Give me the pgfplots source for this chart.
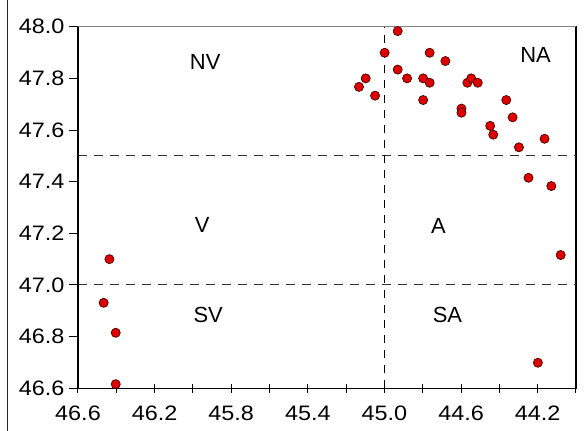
\documentclass[border=0pt]{standalone}
\usepackage{fontspec}
\setmainfont{Liberation Sans}
\newfontfamily\tickfont{Liberation Sans}[FakeStretch=1.12]
\usepackage{pgfplots}
\pgfplotsset{compat=1.18}

\definecolor{ptfill}{RGB}{220,0,0}
\definecolor{ptedge}{RGB}{60,0,0}

\begin{document}
\begin{tikzpicture}
\path[use as bounding box] (0,0) rectangle (586bp,431bp);
\draw[black!85, line width=1.3bp] (7.3bp,0) -- (7.3bp,431bp);
\begin{axis}[
    at={(78bp,42.7bp)}, anchor=south west,
    scale only axis,
    width=498bp, height=361.6bp,
    x dir=reverse,
    xmin=44.0, xmax=46.6,
    ymin=46.6, ymax=48.0,
    xtick={44.2,44.6,45.0,45.4,45.8,46.2,46.6},
    minor xtick={44.0,44.4,44.8,45.2,45.6,46.0,46.4},
    ytick={46.6,46.8,47.0,47.2,47.4,47.6,47.8,48.0},
    xtick pos=bottom, ytick pos=left,
    x tick style={black, line width=1bp},
    y tick style={black, line width=1bp},
    xtick align=center, ytick align=outside,
    major tick length=9bp, minor tick length=9bp,
    axis line style={black, line width=1.2bp},
    /pgf/number format/.cd, fixed, fixed zerofill, precision=1, assume math mode=true,
    /pgfplots/.cd,
    tick label style={font=\tickfont\fontsize{21}{25}\selectfont},
    xticklabel style={yshift=-10bp},
    yticklabel style={xshift=-1bp},
    clip=false,
]
% quadrant boundaries
\addplot[black!80, line width=1bp, dash pattern=on 9bp off 7bp] coordinates {(46.6,47.5) (44.0,47.5)};
\addplot[black!80, line width=1bp, dash pattern=on 9bp off 7bp] coordinates {(46.6,47.0) (44.0,47.0)};
\addplot[black, line width=1bp, dash pattern=on 8bp off 7bp] coordinates {(45.0,46.6) (45.0,48.0)};

% observations
\addplot[only marks, mark=*, mark size=4.6bp,
    mark options={fill=ptfill, draw=ptedge, line width=0.6bp}] coordinates {
    (44.931,47.983) (44.999,47.899) (44.764,47.899) (44.682,47.867)
    (44.931,47.834) (45.098,47.800) (44.882,47.800) (44.798,47.800)
    (44.764,47.783) (45.133,47.767) (45.049,47.733) (44.567,47.783)
    (44.547,47.800) (44.513,47.783) (44.798,47.716) (44.598,47.683)
    (44.598,47.667) (44.364,47.716) (44.331,47.649) (44.448,47.616)
    (44.432,47.582) (44.298,47.533) (44.164,47.566) (44.248,47.415)
    (44.129,47.383) (44.080,47.116) (44.199,46.699) (46.436,47.100)
    (46.466,46.931) (46.403,46.815) (46.403,46.616)
};

% top frame line in grey
\draw[gray, line width=1.2bp] (rel axis cs:0,1) -- (rel axis cs:1,1);

\node[font=\fontsize{22}{26}\selectfont] at (axis cs:45.936,47.863) {NV};
\node[font=\fontsize{22}{26}\selectfont] at (axis cs:44.211,47.890) {NA};
\node[font=\fontsize{22}{26}\selectfont] at (axis cs:45.952,47.232) {V};
\node[font=\fontsize{22}{26}\selectfont] at (axis cs:44.718,47.228) {A};
\node[font=\fontsize{22}{26}\selectfont] at (axis cs:45.920,46.884) {SV};
\node[font=\fontsize{22}{26}\selectfont] at (axis cs:44.671,46.884) {SA};
\end{axis}
\end{tikzpicture}
\end{document}
